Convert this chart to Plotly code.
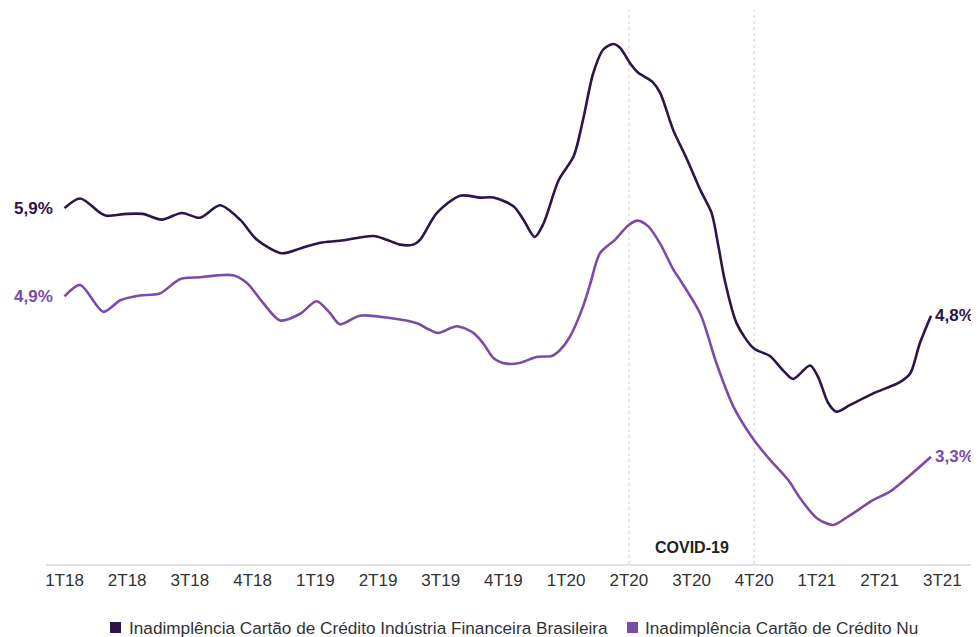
import plotly.graph_objects as go

# Quarter labels (x position = quarter index, 0 = 1T18)
quarters = ["1T18", "2T18", "3T18", "4T18", "1T19", "2T19", "3T19", "4T19",
            "1T20", "2T20", "3T20", "4T20", "1T21", "2T21", "3T21"]

# Industry (Brazilian financial industry) card delinquency, %
ind_x = [0.00, 0.25, 0.57, 0.67, 0.99, 1.25, 1.55, 1.87, 2.16, 2.48, 2.80, 3.07, 3.46, 3.76,
         4.08, 4.39, 4.93, 5.14, 5.35, 5.56, 5.67, 5.94, 6.31, 6.63, 6.84, 7.16, 7.32, 7.50,
         7.64, 7.88, 8.12, 8.27, 8.43, 8.59, 8.75, 8.86, 9.02, 9.15, 9.37, 9.50, 9.71, 9.92,
         10.14, 10.32, 10.43, 10.53, 10.72, 10.99, 11.25, 11.46, 11.62, 11.89, 12.02, 12.18,
         12.31, 12.53, 12.90, 13.33, 13.49, 13.64, 13.82]
ind_y = [5.88, 5.98, 5.83, 5.80, 5.82, 5.82, 5.76, 5.83, 5.78, 5.91, 5.76, 5.55, 5.41, 5.46,
         5.52, 5.54, 5.59, 5.55, 5.50, 5.50, 5.55, 5.83, 6.01, 5.99, 5.99, 5.90, 5.76, 5.58,
         5.72, 6.17, 6.42, 6.80, 7.28, 7.53, 7.59, 7.55, 7.39, 7.29, 7.20, 7.08, 6.69, 6.40,
         6.07, 5.83, 5.48, 5.13, 4.68, 4.42, 4.34, 4.19, 4.10, 4.24, 4.12, 3.85,
         3.76, 3.83, 3.95, 4.07, 4.16, 4.47, 4.76]

# Nu card delinquency, %
nu_x = [0.00, 0.25, 0.62, 0.89, 1.20, 1.52, 1.84, 2.16, 2.43, 2.69, 2.91, 3.17, 3.44, 3.76,
        4.02, 4.23, 4.39, 4.71, 5.14, 5.62, 5.83, 5.96, 6.26, 6.52, 6.68, 6.84, 7.05, 7.27,
        7.53, 7.77, 7.90, 8.06, 8.25, 8.38, 8.54, 8.78, 8.99, 9.14, 9.31, 9.50, 9.71, 9.82,
        10.14, 10.40, 10.67, 10.99, 11.25, 11.54, 11.73, 12.00, 12.26, 12.48, 12.90, 13.17,
        13.49, 13.82]
nu_y = [4.96, 5.08, 4.80, 4.92, 4.97, 4.99, 5.14, 5.16, 5.18, 5.18, 5.10, 4.89, 4.71, 4.78,
        4.91, 4.79, 4.67, 4.76, 4.74, 4.68, 4.61, 4.58, 4.65, 4.58, 4.47, 4.32, 4.26, 4.27,
        4.33, 4.34, 4.40, 4.54, 4.82, 5.08, 5.41, 5.55, 5.70, 5.75, 5.69, 5.51, 5.24, 5.13,
        4.78, 4.26, 3.81, 3.47, 3.26, 3.05, 2.86, 2.65, 2.58, 2.66, 2.84, 2.93,
        3.10, 3.29]

ind_name = "Inadimplência Cartão de Crédito Indústria Financeira Brasileira"
nu_name = "Inadimplência Cartão de Crédito Nu"
start_labels = ["5,9%", "4,9%"]
end_labels = ["4,8%", "3,3%"]
covid_quarters = [9, 11]  # 2T20 .. 4T20

C_IND = "#2c1548"
C_NU = "#7b4ca7"
FONT = "Liberation Sans, Arial, sans-serif"

fig = go.Figure()
fig.add_trace(go.Scatter(x=ind_x, y=ind_y, mode="lines", name=ind_name, showlegend=False,
                         line=dict(color=C_IND, width=2.6, shape="spline", smoothing=0.8)))
fig.add_trace(go.Scatter(x=nu_x, y=nu_y, mode="lines", name=nu_name, showlegend=False,
                         line=dict(color=C_NU, width=2.6, shape="spline", smoothing=0.8)))

for q in covid_quarters:
    fig.add_shape(type="line", xref="x", yref="paper", x0=q, x1=q, y0=0, y1=1,
                  line=dict(color="#dcdcdc", width=1.3, dash="dot"), layer="below")

ann = []
ann.append(dict(x=ind_x[0], y=ind_y[0], text="<b>%s</b>" % start_labels[0], xanchor="right",
                xshift=-10, showarrow=False, font=dict(color=C_IND, size=17, family=FONT)))
ann.append(dict(x=nu_x[0], y=nu_y[0], text="<b>%s</b>" % start_labels[1], xanchor="right",
                xshift=-10, showarrow=False, font=dict(color=C_NU, size=17, family=FONT)))
ann.append(dict(x=ind_x[-1], y=ind_y[-1], text="<b>%s</b>" % end_labels[0], xanchor="left",
                xshift=2, showarrow=False, font=dict(color=C_IND, size=17, family=FONT)))
ann.append(dict(x=nu_x[-1], y=nu_y[-1], text="<b>%s</b>" % end_labels[1], xanchor="left",
                xshift=2, showarrow=False, font=dict(color=C_NU, size=17, family=FONT)))
ann.append(dict(x=sum(covid_quarters) / 2, y=0.03, yref="paper", yanchor="middle",
                text="<b>COVID-19</b>", showarrow=False,
                font=dict(color="#222222", size=16, family=FONT)))

# legend: coloured square + name (positions in paper units)
legend_items = [(0.0686, 0.0804, 0.0868, ind_name, C_IND),
                (0.6227, 0.6345, 0.6399, nu_name, C_NU)]
for sx0, sx1, tx, name, col in legend_items:
    fig.add_shape(type="rect", xref="paper", yref="paper", x0=sx0, x1=sx1,
                  y0=-0.1245, y1=-0.1047, fillcolor=col, line=dict(width=0))
    ann.append(dict(x=tx, y=-0.1155, xref="paper", yref="paper", xanchor="left",
                    yanchor="middle", showarrow=False, text=name,
                    font=dict(color="#333333", size=17.2, family=FONT)))

fig.update_layout(
    width=971, height=629,
    margin=dict(l=38, r=0, t=2, b=73, autoexpand=False),
    paper_bgcolor="white", plot_bgcolor="white",
    font=dict(family=FONT, size=17, color="#333333"),
    annotations=ann,
    xaxis=dict(range=[-0.295, 14.585], tickmode="array", tickvals=list(range(len(quarters))),
               ticktext=quarters, showgrid=False, zeroline=False, showline=True,
               linecolor="#e3e3e3", linewidth=1.5, ticks="", tickfont=dict(size=17, color="#333333")),
    yaxis=dict(range=[2.173, 7.944], visible=False, showgrid=False, zeroline=False),
    showlegend=False,
)

fig.write_html("out.html")
